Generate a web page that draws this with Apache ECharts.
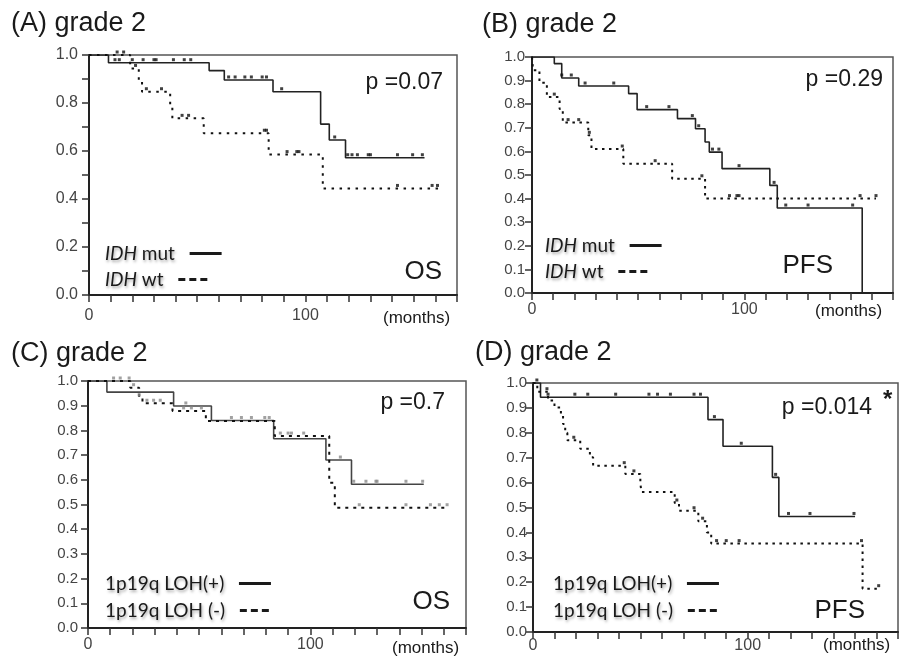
<!DOCTYPE html>
<html>
<head>
<meta charset="utf-8">
<title>grade 2 survival</title>
<script src="https://cdn.jsdelivr.net/npm/echarts@6/dist/echarts.min.js"></script>
<style>
  html, body { margin: 0; padding: 0; background: #fff; }
  #chart { width: 901px; height: 662px; }
</style>
</head>
<body>
<div id="chart"></div>
<script>
// KM steps: [months, survival after the event]
// (A) OS by IDH
var aMut = [[0, 1], [9, 0.968], [55.5, 0.935], [62.5, 0.896], [85, 0.847], [107, 0.712], [111, 0.646], [118.5, 0.572], [155, 0.572]];
var aWt = [[0, 1], [19, 0.944], [23, 0.896], [24.5, 0.847], [37.5, 0.79], [38.5, 0.736], [53, 0.674], [83, 0.585], [108, 0.444], [162, 0.444]];
var aMutCens = [12, 14, 20, 25, 30, 31, 39, 44, 47, 64.5, 67.5, 72, 75, 80, 82, 89, 113.5, 119.5, 121.5, 124, 129, 130, 142.5, 149.5, 154];
var aWtCens = [13, 16, 21.5, 26.5, 33.5, 43, 46, 81, 82, 91.5, 96, 97, 142.5, 158.5, 161];

// (B) PFS by IDH
var bMut = [[0, 1], [10.5, 0.972], [14, 0.911], [22, 0.877], [45.5, 0.845], [49.5, 0.777], [68.5, 0.739], [77, 0.696], [81.5, 0.64], [83.5, 0.597], [89.5, 0.527], [112, 0.456], [115.5, 0.36], [155.5, 0]];
var bWt = [[0, 1], [0.5, 0.944], [3.5, 0.891], [7, 0.83], [13, 0.78], [14.5, 0.722], [26.5, 0.668], [28, 0.61], [43, 0.548], [66, 0.484], [81.5, 0.4], [162, 0.4]];
var bMutCens = [14, 18.5, 25, 38.5, 54, 64.5, 75.5, 78.5, 85, 88, 97.5, 114, 119.5, 130, 151];
var bWtCens = [10.5, 17, 22, 27, 42.5, 58, 80, 93, 96.5, 97.5, 154.5, 162];

// (C) OS by 1p19q
var cPos = [[0, 1], [8.5, 0.955], [38.5, 0.899], [55.5, 0.84], [83.5, 0.766], [107, 0.68], [118.5, 0.582], [151, 0.582]];
var cNeg = [[0, 1], [19, 0.973], [23, 0.932], [24.5, 0.91], [38, 0.879], [53, 0.838], [84, 0.777], [108.5, 0.588], [111, 0.487], [162, 0.487]];
var cPosCens = [44, 64.5, 69, 73.5, 79.5, 81.5, 113.5, 119.5, 125, 129.5, 130, 143, 150.5];
var cNegCens = [11.5, 14.5, 18.5, 20.5, 23, 26.5, 29.5, 32.5, 43, 46.5, 51, 86.5, 90, 91.5, 97, 122, 143, 154, 158, 161.5];

// (D) PFS by 1p19q
var dPos = [[0, 1], [3.5, 0.943], [81.5, 0.853], [88.5, 0.746], [111.5, 0.621], [114.5, 0.464], [150, 0.464]];
var dNeg = [[0, 1], [2, 0.965], [7, 0.93], [10, 0.902], [13, 0.873], [14, 0.835], [15, 0.8], [16, 0.77], [22, 0.736], [26.5, 0.702], [28, 0.668], [43, 0.635], [50, 0.597], [50.5, 0.562], [66, 0.518], [68, 0.487], [77, 0.445], [81, 0.4], [83, 0.355], [153.5, 0.174], [161, 0.174]];
var dPosCens = [1.8, 7, 19.5, 25.5, 38.5, 54, 58, 64, 75, 78, 84.5, 97, 113, 119, 129, 149.5];
var dNegCens = [6.5, 19, 42.5, 47, 67, 75, 79, 85.5, 90, 96, 153, 161];

var panelTitles = ['(A) grade 2', '(B) grade 2', '(C) grade 2', '(D) grade 2'];
var pValues = ['p =0.07', 'p =0.29', 'p =0.7', 'p =0.014'];
var endpoints = ['OS', 'PFS', 'OS', 'PFS'];
var idhGroups = ['IDH mut', 'IDH wt'];
var lohGroups = ['1p19q LOH(+)', '1p19q LOH (-)'];
var xLabels = [0, 100];

var FONT = '"Liberation Sans", Arial, sans-serif';
var LEGEND_FONT = 'Lato, "Open Sans", sans-serif';

var panels = [
  { curves: [aMut, aWt], censored: [aMutCens, aWtCens], groups: idhGroups,
    grid: { left: 89, top: 55, width: 368, height: 240 },
    yEvery: 2, yFont: 16, yMargin: 11, xMargin: 13,
    title: [11, 24], p: [443, 83], ep: [442, 272], months: [383, 318], legend: [105, 244, 270],
    dash: [2.5, 5.5], solid: '#222', censColor: '#111' },
  { curves: [bMut, bWt], censored: [bMutCens, bWtCens], groups: idhGroups,
    grid: { left: 532, top: 57, width: 361, height: 236 },
    yEvery: 1, yFont: 15, yMargin: 7, xMargin: 9,
    title: [482, 25], p: [883, 80], ep: [833, 266], months: [815, 311], legend: [545, 236, 262],
    dash: [2.5, 4.5], solid: '#222', censColor: '#111' },
  { curves: [cPos, cNeg], censored: [cPosCens, cNegCens], groups: lohGroups,
    grid: { left: 88, top: 381, width: 378, height: 247 },
    yEvery: 1, yFont: 15, yMargin: 10, xMargin: 9,
    title: [11, 354], p: [445, 403], ep: [450, 602], months: [392, 648], legend: [105, 574, 601],
    dash: [3, 5], solid: '#444', censColor: '#8a8a8a' },
  { curves: [dPos, dNeg], censored: [dPosCens, dNegCens], groups: lohGroups,
    grid: { left: 533, top: 383, width: 367, height: 249 },
    yEvery: 1, yFont: 15, yMargin: 6, xMargin: 6,
    title: [475, 353], p: [872, 408], ep: [865, 611], months: [823, 645], legend: [553, 574, 601],
    dash: [2.5, 4.5], solid: '#222', censColor: '#111' }
];

function levelAt(curve, t) {
  var s = curve[0][1];
  for (var i = 0; i < curve.length; i++) {
    if (curve[i][0] <= t) s = curve[i][1]; else break;
  }
  return s;
}

function censorPoints(curve, times) {
  return times.map(function(t) { return [t, levelAt(curve, t)]; });
}

function legendName(name) {
  var label = name.split('|')[1];
  if (label.indexOf('IDH') === 0) return '{i|IDH}' + label.slice(3) + '  ';
  return label + '  ';
}

function text(str, x, y, size, align, extra) {
  var style = {
    text: str, x: x, y: y, fill: '#1a1a1a',
    font: (extra || '') + size + 'px ' + FONT,
    align: align, textAlign: align, verticalAlign: 'middle', textVerticalAlign: 'middle'
  };
  return { type: 'text', style: style, silent: true };
}

var shadow = { textShadowColor: 'rgba(0,0,0,0.35)', textShadowBlur: 3, textShadowOffsetX: 1, textShadowOffsetY: 2 };
var hidden = 'rgba(0,0,0,0)';

var option = { animation: false, grid: [], xAxis: [], yAxis: [], series: [], legend: [], graphic: [] };

panels.forEach(function(p, i) {
  var key = 'ABCD'.charAt(i);
  option.grid.push(Object.assign({ show: true, borderColor: '#555', borderWidth: 1.5 }, p.grid));

  option.xAxis.push({
    type: 'value', gridIndex: i, min: 0, max: 170, interval: 10,
    axisLine: { onZero: false, lineStyle: { color: '#222', width: 2 } },
    axisTick: { length: 7, lineStyle: { color: '#333', width: 1.5 } },
    splitLine: { show: false },
    axisLabel: {
      margin: p.xMargin, fontFamily: FONT, fontSize: 16, color: '#444',
      formatter: function(v) { return xLabels.indexOf(v) >= 0 ? String(v) : ''; }
    }
  });

  option.yAxis.push({
    type: 'value', gridIndex: i, min: 0, max: 1, interval: 0.1,
    axisLine: { show: true, onZero: false, lineStyle: { color: '#222', width: 2 } },
    axisTick: { show: true, length: 7, lineStyle: { color: '#333', width: 1.5 } },
    splitLine: { show: false },
    axisLabel: {
      margin: p.yMargin, fontFamily: FONT, fontSize: p.yFont, color: '#444',
      formatter: function(v) {
        return Math.round(v * 10) % p.yEvery === 0 ? v.toFixed(1) : '';
      }
    }
  });

  p.curves.forEach(function(curve, j) {
    var name = key + '|' + p.groups[j];
    var lineColor = j === 0 ? p.solid : '#111';
    option.series.push({
      name: name, type: 'line', step: 'end', symbol: 'none',
      xAxisIndex: i, yAxisIndex: i, data: curve, z: 2,
      itemStyle: { color: lineColor },
      lineStyle: j === 0
        ? { color: lineColor, width: 1.6, type: 'solid' }
        : { color: lineColor, width: 2, type: p.dash }
    });
    option.series.push({
      name: name + ' censored', type: 'scatter', symbol: 'rect',
      symbolSize: [3, 3], symbolOffset: [0, -3], silent: true,
      xAxisIndex: i, yAxisIndex: i, z: 3,
      data: censorPoints(curve, p.censored[j]),
      itemStyle: { color: p.censColor }
    });

    option.legend.push({
      data: [name], left: p.legend[0], top: p.legend[j + 1],
      align: 'right', padding: 0, itemWidth: 32, itemHeight: 12,
      selectedMode: false, formatter: legendName,
      itemStyle: { color: hidden, borderColor: hidden, borderWidth: 0 },
      lineStyle: j === 0 ? { width: 3, color: '#1a1a1a' } : { width: 3, color: '#1a1a1a', type: [7, 4] },
      textStyle: Object.assign({
        fontFamily: LEGEND_FONT, fontSize: 19, color: '#1a1a1a',
        rich: { i: Object.assign({ fontStyle: 'italic', fontFamily: LEGEND_FONT, fontSize: 19, color: '#1a1a1a' }, shadow) }
      }, shadow)
    });
  });

  option.graphic.push(text(panelTitles[i], p.title[0], p.title[1], 27, 'left'));
  option.graphic.push(text(pValues[i], p.p[0], p.p[1], 23, 'right'));
  option.graphic.push(text(endpoints[i], p.ep[0], p.ep[1], 26, 'right'));
  option.graphic.push(text('(months)', p.months[0], p.months[1], 17, 'left'));
});

// significance mark for (D)
option.graphic.push(text('*', 883, 400, 24, 'left', 'bold '));

var chart = echarts.init(document.getElementById('chart'));
chart.setOption(option);
</script>
</body>
</html>
